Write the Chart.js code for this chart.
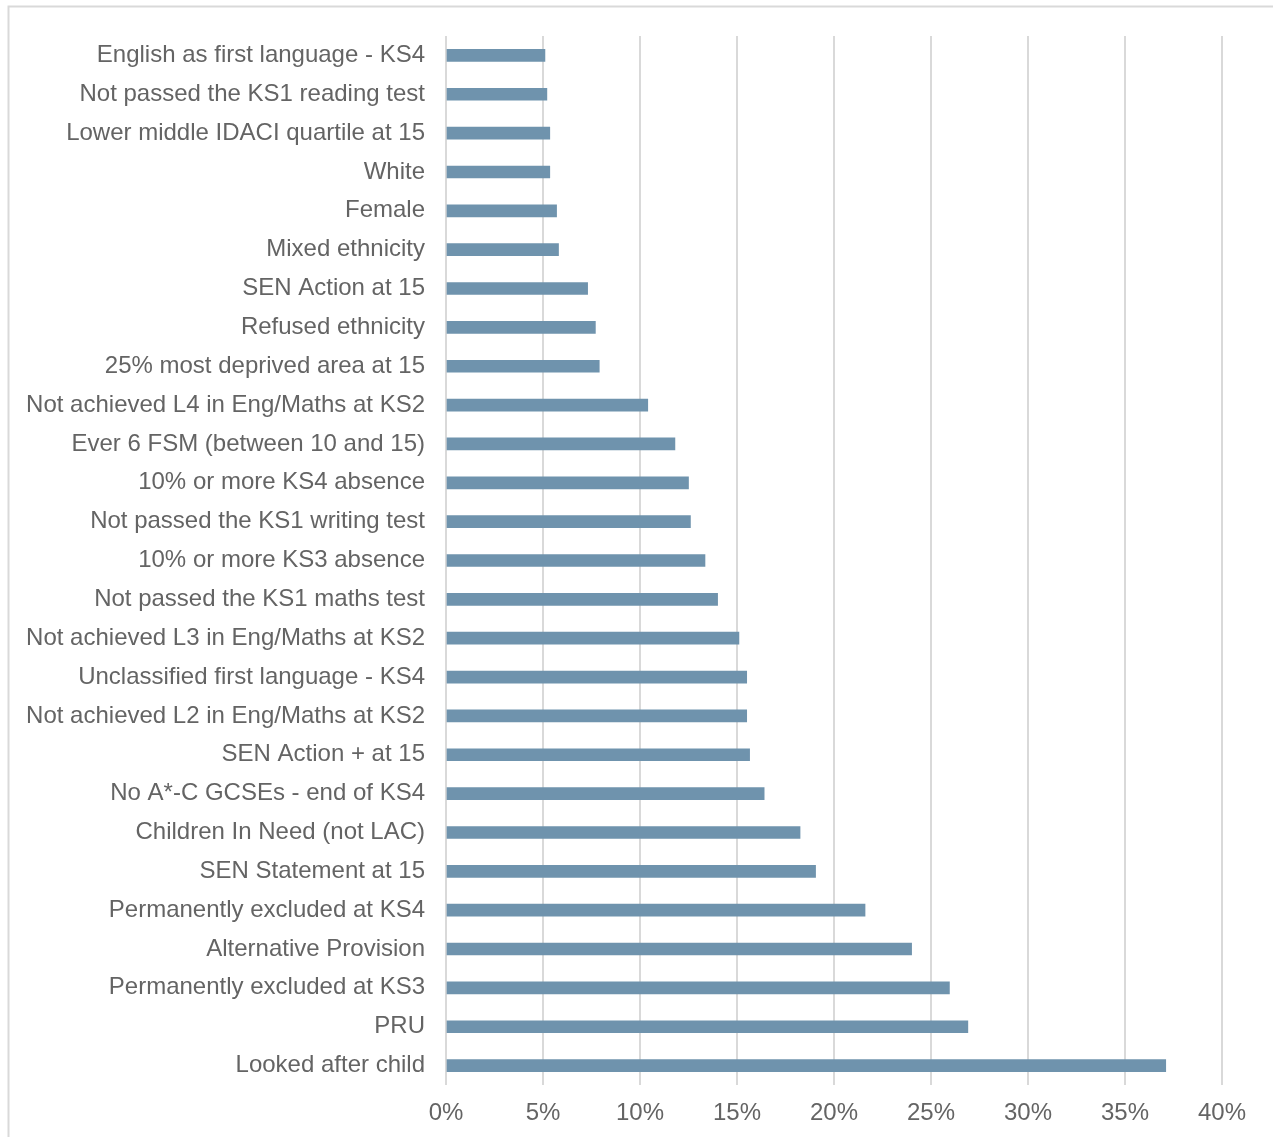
<!DOCTYPE html>
<html>
<head>
  <meta charset="utf-8">
  <title>Risk factors</title>
  <style>
    body { margin: 0; background: #fff; }
    #wrap { width: 1273px; height: 1137px; }
  </style>
</head>
<body>
  <script src="https://cdn.jsdelivr.net/npm/chart.js"></script>
  <div id="wrap"><canvas id="myChart"></canvas></div>

  <script>
    // categories, top to bottom
    const categories = [
      'English as first language - KS4',
      'Not passed the KS1 reading test',
      'Lower middle IDACI quartile at 15',
      'White',
      'Female',
      'Mixed ethnicity',
      'SEN Action at 15',
      'Refused ethnicity',
      '25% most deprived area at 15',
      'Not achieved L4 in Eng/Maths at KS2',
      'Ever 6 FSM (between 10 and 15)',
      '10% or more KS4 absence',
      'Not passed the KS1 writing test',
      '10% or more KS3 absence',
      'Not passed the KS1 maths test',
      'Not achieved L3 in Eng/Maths at KS2',
      'Unclassified first language - KS4',
      'Not achieved L2 in Eng/Maths at KS2',
      'SEN Action + at 15',
      'No A*-C GCSEs - end of KS4',
      'Children In Need (not LAC)',
      'SEN Statement at 15',
      'Permanently excluded at KS4',
      'Alternative Provision',
      'Permanently excluded at KS3',
      'PRU',
      'Looked after child'
    ];

    // percent values
    const values = [5.1, 5.2, 5.35, 5.35, 5.7, 5.8, 7.3, 7.7, 7.9, 10.4, 11.8, 12.5, 12.6, 13.35, 14.0,
                    15.1, 15.5, 15.5, 15.65, 16.4, 18.25, 19.05, 21.6, 24.0, 25.95, 26.9, 37.1];

    const xTicks = [0, 5, 10, 15, 20, 25, 30, 35, 40];

    // light frame round the whole chart
    const framePlugin = {
      id: 'frame',
      beforeDraw(chart) {
        const c = chart.ctx;
        c.save();
        c.strokeStyle = '#d9d9d9';
        c.lineWidth = 2;
        c.strokeRect(8.5, 6.5, 1400, 1300);
        c.restore();
      }
    };

    const ctx = document.getElementById('myChart').getContext('2d');
    new Chart(ctx, {
      type: 'bar',
      data: {
        labels: categories,
        datasets: [{
          data: values,
          backgroundColor: '#6f93ad',
          barThickness: 12
        }]
      },
      options: {
        indexAxis: 'y',
        responsive: true,
        maintainAspectRatio: false,
        animation: false,
        layout: { padding: { left: 10, right: 51, top: 36, bottom: 0 } },
        plugins: {
          legend: { display: false },
          tooltip: { enabled: false }
        },
        scales: {
          x: {
            min: 0,
            max: 40,
            afterBuildTicks(scale) {
              scale.ticks = xTicks.map(v => ({ value: v }));
            },
            afterFit(scale) { scale.height = 52; },
            grid: { color: '#d9d9d9', lineWidth: 2, drawTicks: false },
            border: { display: false },
            ticks: {
              padding: 14,
              color: '#646464',
              font: { family: 'Liberation Sans', size: 24 },
              callback: v => v + '%'
            }
          },
          y: {
            afterFit(scale) { scale.width = 436; },
            grid: { display: false, drawTicks: false },
            border: { display: false },
            ticks: {
              padding: 21,
              color: '#646464',
              autoSkip: false,
              font: { family: 'Liberation Sans', size: 24 }
            }
          }
        }
      },
      plugins: [framePlugin]
    });
  </script>
</body>
</html>
